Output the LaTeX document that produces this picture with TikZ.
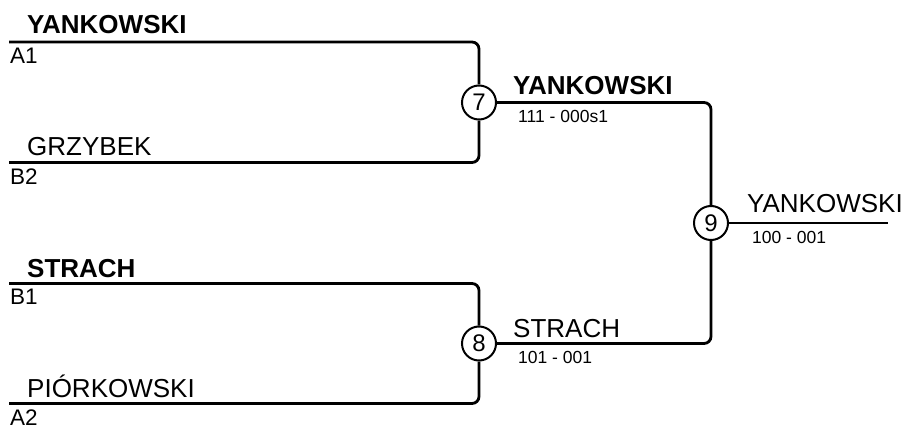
\documentclass[tikz,border=0pt]{standalone}
\usepackage{fontspec}
\setmainfont{Liberation Sans}
\begin{document}
\begin{tikzpicture}[x=1pt,y=-1pt,
  bline/.style={line width=2.8pt,rounded corners=7pt,line cap=butt},
  match/.style={circle,draw,line width=2pt,minimum size=34pt,inner sep=0pt,font=\fontsize{24}{28}\selectfont},
  namew/.style={anchor=base west,inner sep=0pt,font=\fontsize{26}{30}\selectfont\bfseries},
  namer/.style={anchor=base west,inner sep=0pt,font=\fontsize{26}{30}\selectfont},
  seed/.style={anchor=base west,inner sep=0pt,font=\fontsize{22.5}{26}\selectfont},
  score/.style={anchor=base west,inner sep=0pt,font=\fontsize{17.5}{20}\selectfont}]
\useasboundingbox (0,0) rectangle (911,428);
% match circles
\node[match] (m7) at (479,102.5) {7};
\node[match] (m8) at (479,343.5) {8};
\node[match] (m9) at (711,223) {9};
% line start points
\coordinate (s1) at (9,42);
\coordinate (s2) at (9,162.5);
\coordinate (s3) at (9,283.5);
\coordinate (s4) at (9,403.5);
\coordinate (e9) at (888,223);
% connectors
\draw[bline] (s1) -| (m7);
\draw[bline] (s2) -| (m7);
\draw[bline] (s3) -| (m8);
\draw[bline] (s4) -| (m8);
\draw[bline] (m7) -| (m9);
\draw[bline] (m8) -| (m9);
\draw[bline] (m9) -- (e9);
% names
\node[namew] (n1) at (27,34) {YANKOWSKI};
\node[seed] (d1) at (10,64) {A1};
\node[namer] (n2) at (27,155) {GRZYBEK};
\node[seed] (d2) at (10,184) {B2};
\node[namew] (n3) at (27,277) {STRACH};
\node[seed] (d3) at (10,304) {B1};
\node[namer] (n4) at (27,397) {PIÓRKOWSKI};
\node[seed] (d4) at (10,425) {A2};
\node[namew] (w7) at (513,95) {YANKOWSKI};
\node[score] (r7) at (518,122) {111 - 000s1};
\node[namer] (w8) at (513,337) {STRACH};
\node[score] (r8) at (518,363) {101 - 001};
\node[namer] (w9) at (747,212) {YANKOWSKI};
\node[score] (r9) at (752,243) {100 - 001};
\end{tikzpicture}
\end{document}
